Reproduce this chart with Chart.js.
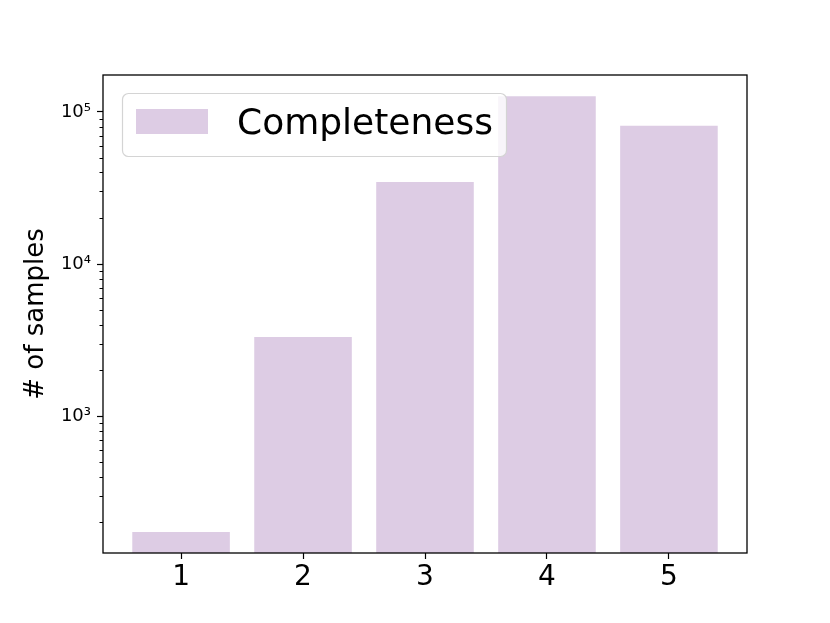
<!DOCTYPE html>
<html>
<head>
<meta charset="utf-8">
<script src="https://cdn.jsdelivr.net/npm/chart.js@4"></script>
<style>
  body { margin: 0; background: #fff; }
  canvas { display: block; }
</style>
</head>
<body>
<canvas id="chart" width="830" height="623"></canvas>
<script>
const categories = [1, 2, 3, 4, 5];
const sampleCounts = [173, 3310, 34700, 127000, 81300];
const seriesLabel = 'Completeness';
const yTicks = [1000, 10000, 100000];
const yTickLabels = ['10³', '10⁴', '10⁵'];

const barColor = 'rgb(221, 204, 228)';
const FONT = "'DejaVu Sans', sans-serif";

// frame, minor log ticks and the boxed legend, drawn like matplotlib
const matplotlibBits = {
  id: 'matplotlibBits',
  afterDatasetsDraw(chart) {
    const { ctx, chartArea: a, scales: { y } } = chart;
    ctx.save();

    // minor ticks on the log axis
    ctx.strokeStyle = '#000';
    ctx.lineWidth = 1;
    for (let dec = 100; dec <= 100000; dec *= 10) {
      for (let m = 2; m <= 9; m++) {
        const v = dec * m;
        if (v < y.min || v > y.max) continue;
        const py = Math.round(y.getPixelForValue(v)) + 0.5;
        ctx.beginPath();
        ctx.moveTo(a.left - 3.5, py);
        ctx.lineTo(a.left, py);
        ctx.stroke();
      }
    }

    // axes frame
    ctx.lineWidth = 1.3;
    ctx.strokeRect(a.left, a.top, a.right - a.left, a.bottom - a.top);

    // legend
    const ds = chart.data.datasets[0];
    const bx = a.left + 19, by = a.top + 18, bw = 384, bh = 63;
    ctx.beginPath();
    ctx.roundRect(bx + 0.5, by + 0.5, bw, bh, 6);
    ctx.fillStyle = 'rgba(255,255,255,0.8)';
    ctx.fill();
    ctx.strokeStyle = '#d4d4d4';
    ctx.lineWidth = 1.2;
    ctx.stroke();

    ctx.fillStyle = ds.backgroundColor;
    ctx.fillRect(bx + 14, by + 16, 72, 25);

    ctx.fillStyle = '#000';
    ctx.font = '36px ' + FONT;
    ctx.textBaseline = 'middle';
    ctx.textAlign = 'left';
    ctx.fillText(ds.label, bx + 115, by + 32);
    ctx.restore();
  }
};

new Chart(document.getElementById('chart'), {
  type: 'bar',
  data: {
    datasets: [{
      label: seriesLabel,
      data: categories.map((c, i) => ({ x: c, y: sampleCounts[i] })),
      backgroundColor: barColor,
      borderWidth: 0,
      barPercentage: 0.8,
      categoryPercentage: 1.0
    }]
  },
  options: {
    responsive: false,
    animation: false,
    layout: { padding: { left: 0, top: 75, right: 83, bottom: 0 } },
    plugins: {
      legend: { display: false },
      tooltip: { enabled: false }
    },
    scales: {
      x: {
        type: 'linear',
        min: 0.36,
        max: 5.64,
        offset: false,
        afterBuildTicks: s => { s.ticks = categories.map(v => ({ value: v })); },
        afterFit: s => { s.height = 70; },
        border: { display: false },
        grid: { offset: false, drawOnChartArea: false, drawTicks: true, tickLength: 6, tickColor: '#000', tickWidth: 1.2 },
        ticks: {
          color: '#000',
          font: { family: FONT, size: 28 },
          padding: 2,
          maxRotation: 0,
          callback: v => String(v)
        }
      },
      y: {
        type: 'logarithmic',
        min: 126,
        max: 175000,
        afterBuildTicks: s => { s.ticks = yTicks.map(v => ({ value: v })); },
        afterFit: s => { s.width = 103; },
        border: { display: false },
        grid: { drawOnChartArea: false, drawTicks: true, tickLength: 6, tickColor: '#000', tickWidth: 1.2 },
        ticks: {
          color: '#000',
          font: { family: FONT, size: 18 },
          padding: 6,
          callback: v => {
            const i = yTicks.indexOf(v);
            return i >= 0 ? yTickLabels[i] : '';
          }
        },
        title: {
          display: true,
          text: '# of samples',
          color: '#000',
          font: { family: FONT, size: 26 },
          padding: { top: 21, bottom: 0 }
        }
      }
    }
  },
  plugins: [matplotlibBits]
});
</script>
</body>
</html>
